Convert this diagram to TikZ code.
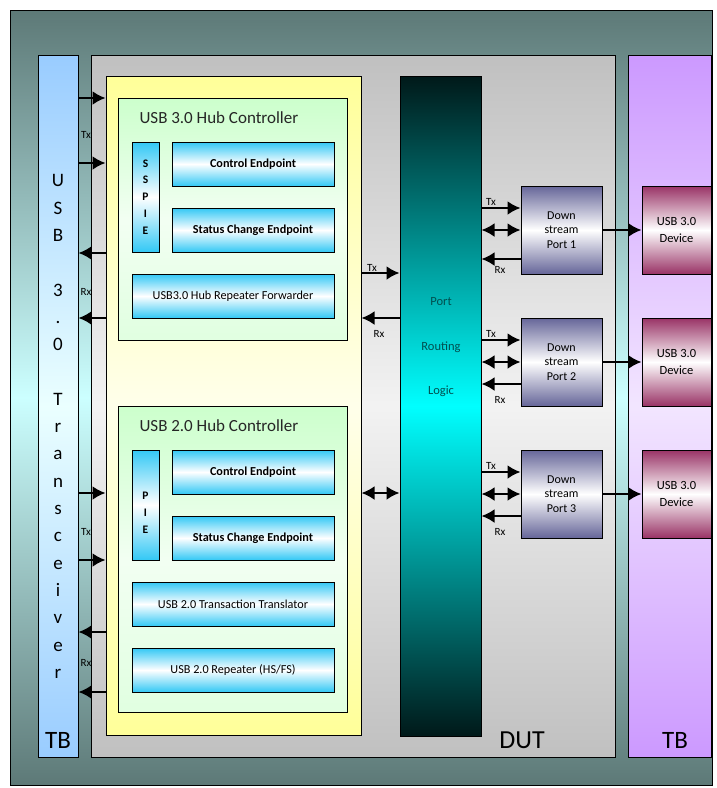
\documentclass[tikz,border=0pt]{standalone}
\usepackage{fontspec}
\setmainfont{Carlito}
\usetikzlibrary{arrows.meta}
\newcommand{\fsz}[2]{\fontsize{#1}{#2}\selectfont}

\definecolor{bgteal}{RGB}{93,121,119}
\definecolor{bgcyan}{RGB}{204,255,255}
\definecolor{tbblue}{RGB}{153,204,255}
\definecolor{tbpurple}{RGB}{204,153,255}
\definecolor{dutgrey}{RGB}{192,192,192}
\definecolor{hubyellow}{RGB}{255,255,153}
\definecolor{hcgreen}{RGB}{204,255,204}
\definecolor{epblue}{RGB}{51,200,245}
\definecolor{prldark}{RGB}{0,25,25}
\definecolor{prltext}{RGB}{0,80,80}
\definecolor{dsslate}{RGB}{102,102,153}
\definecolor{devmaroon}{RGB}{153,51,102}

\tikzset{
  blk/.style={draw,line width=1pt,inner sep=0pt,align=center},
  epbox/.style={blk,top color=epblue,bottom color=epblue,middle color=white,minimum height=44pt},
  dsbox/.style={blk,top color=dsslate,bottom color=dsslate,middle color=white,
    minimum width=81pt,minimum height=88pt,font=\fsz{12}{14.5}},
  devbox/.style={blk,top color=devmaroon,bottom color=devmaroon,middle color=white,
    minimum width=69pt,minimum height=88pt,font=\fsz{12.5}{17}},
  lbl/.style={inner sep=0pt,font=\fsz{11}{11}},
  bus/.style={line width=2.4pt}
}

\begin{document}
\begin{tikzpicture}[x=1pt,y=-1pt,>={Latex[length=13pt,width=14pt]}]
\useasboundingbox (0,0) rectangle (717,788);
% frame and test benches
\node[blk,top color=bgteal,bottom color=bgteal,middle color=bgcyan,minimum width=702pt,minimum height=775pt] (bg) at (361,397.5) {};
\node[blk,top color=tbblue,bottom color=tbblue,middle color=bgcyan!40,minimum width=40pt,minimum height=702pt] (tbl) at (58,406) {};
\node[blk,top color=dutgrey,bottom color=dutgrey,middle color=white!95!black,minimum width=524pt,minimum height=702pt] (dut) at (353,406) {};
\node[blk,top color=tbpurple,bottom color=tbpurple,middle color=tbpurple!25,minimum width=83pt,minimum height=702pt] (tbr) at (669.5,406) {};
\node[font=\fsz{19}{27.3},align=center] (tbltext) at (58,426.5) {U\\S\\B\\ \\3\\.\\0\\ \\T\\r\\a\\n\\s\\c\\e\\i\\v\\e\\r};
\node[font=\fsz{25}{25}] (tbllbl) at (58,740) {TB};
\node[font=\fsz{25}{25}] (tbrlbl) at (675,740) {TB};
\node[font=\fsz{26}{26}] (dutlbl) at (522,740) {DUT};

% hub
\node[blk,top color=hubyellow,bottom color=hubyellow,middle color=hubyellow!20,minimum width=255pt,minimum height=659pt] (hub) at (233.5,405.5) {};

% usb 3.0 hub controller
\node[blk,top color=hcgreen,bottom color=hcgreen!60,middle color=hcgreen!25,minimum width=229pt,minimum height=242pt] (hc3) at (232.5,219) {};
\node[anchor=west,font=\fsz{17}{17},text=black!85] (hc3t) at (136,118) {USB 3.0 Hub Controller};
\node[epbox,minimum width=27pt,minimum height=110pt,font=\bfseries\fsz{11.5}{16.8}] (sspie) at (145.5,197) {S\\S\\P\\I\\E};
\node[epbox,minimum width=162pt,font=\bfseries\fsz{12.2}{12}] (ce3) at (253,164) {Control Endpoint};
\node[epbox,minimum width=162pt,font=\bfseries\fsz{12.2}{12}] (sce3) at (253,230) {Status Change Endpoint};
\node[epbox,minimum width=202pt,font=\fsz{12.2}{12}] (rf3) at (233,296) {USB3.0 Hub Repeater Forwarder};

% usb 2.0 hub controller
\node[blk,top color=hcgreen,bottom color=hcgreen!60,middle color=hcgreen!25,minimum width=229pt,minimum height=306pt] (hc2) at (232.5,559) {};
\node[anchor=west,font=\fsz{17}{17},text=black!85] (hc2t) at (136,426) {USB 2.0 Hub Controller};
\node[epbox,minimum width=27pt,minimum height=110pt] (pie) at (145.5,505) {};
\node[font=\bfseries\fsz{11.5}{16.8},align=center] (pietext) at (145.5,513) {P\\I\\E};
\node[epbox,minimum width=162pt,font=\bfseries\fsz{12.2}{12}] (ce2) at (253,472) {Control Endpoint};
\node[epbox,minimum width=162pt,font=\bfseries\fsz{12.2}{12}] (sce2) at (253,538) {Status Change Endpoint};
\node[epbox,minimum width=202pt,font=\fsz{12.2}{12}] (tt2) at (233,604) {USB 2.0 Transaction Translator};
\node[epbox,minimum width=202pt,font=\fsz{12.2}{12}] (rp2) at (233,670) {USB 2.0 Repeater (HS/FS)};

% port routing logic
\node[blk,top color=prldark,bottom color=prldark,middle color=cyan,minimum width=81pt,minimum height=660pt] (prl) at (440.5,406) {};
\node[font=\fsz{12.5}{44.5},align=center,text=prltext] (prltext) at (441,347.5) {Port\\Routing\\Logic};

% downstream ports and devices
\node[dsbox] (ds1) at (561.5,230) {Down\\stream\\Port 1};
\node[dsbox] (ds2) at (561.5,362) {Down\\stream\\Port 2};
\node[dsbox] (ds3) at (561.5,494) {Down\\stream\\Port 3};
\node[devbox] (dev1) at (676.5,230) {USB 3.0\\Device};
\node[devbox] (dev2) at (676.5,362) {USB 3.0\\Device};
\node[devbox] (dev3) at (676.5,494) {USB 3.0\\Device};

% transceiver <-> hub
\draw[bus,->] (tbl.east |- 0,98) -- (hub.west |- 0,98);
\draw[bus,->] (tbl.east |- 0,163) -- (hub.west |- 0,163);
\draw[bus,<-] (tbl.east |- 0,253) -- (hub.west |- 0,253);
\draw[bus,<-] (tbl.east |- 0,318) -- (hub.west |- 0,318);
\draw[bus,->] (tbl.east |- 0,493) -- (hub.west |- 0,493);
\draw[bus,->] (tbl.east |- 0,560) -- (hub.west |- 0,560);
\draw[bus,<-] (tbl.east |- 0,632) -- (hub.west |- 0,632);
\draw[bus,<-] (tbl.east |- 0,692) -- (hub.west |- 0,692);
\node[lbl] (tx1) at (86,135) {Tx};
\node[lbl] (rx1) at (86,292) {Rx};
\node[lbl] (tx2) at (86,532) {Tx};
\node[lbl] (rx2) at (86,663) {Rx};

% hub <-> port routing
\draw[bus,->] (hub.east |- 0,273) -- (prl.west |- 0,273);
\draw[bus,<-] (hub.east |- 0,318) -- (prl.west |- 0,318);
\draw[bus,<->] (hub.east |- 0,493) -- (prl.west |- 0,493);
\node[lbl] (tx3) at (372,268) {Tx};
\node[lbl] (rx3) at (379,334) {Rx};

% port routing <-> downstream ports
\draw[bus,->] (prl.east |- 0,208) -- (ds1.west |- 0,208);
\draw[bus,<->] (prl.east |- ds1.west) -- (ds1.west);
\draw[bus,<-] (prl.east |- 0,259) -- (ds1.west |- 0,259);
\node[lbl] (tx4) at (491,202) {Tx};
\node[lbl] (rx4) at (500,270) {Rx};
\draw[bus,->] (prl.east |- 0,340) -- (ds2.west |- 0,340);
\draw[bus,<->] (prl.east |- ds2.west) -- (ds2.west);
\draw[bus,<-] (prl.east |- 0,384) -- (ds2.west |- 0,384);
\node[lbl] (tx5) at (491,334) {Tx};
\node[lbl] (rx5) at (500,400) {Rx};
\draw[bus,->] (prl.east |- 0,472) -- (ds3.west |- 0,472);
\draw[bus,<->] (prl.east |- ds3.west) -- (ds3.west);
\draw[bus,<-] (prl.east |- 0,516) -- (ds3.west |- 0,516);
\node[lbl] (tx6) at (491,466) {Tx};
\node[lbl] (rx6) at (500,532) {Rx};

% downstream ports -> devices
\draw[bus,->] (ds1) -- (dev1);
\draw[bus,->] (ds2) -- (dev2);
\draw[bus,->] (ds3) -- (dev3);
\end{tikzpicture}
\end{document}
